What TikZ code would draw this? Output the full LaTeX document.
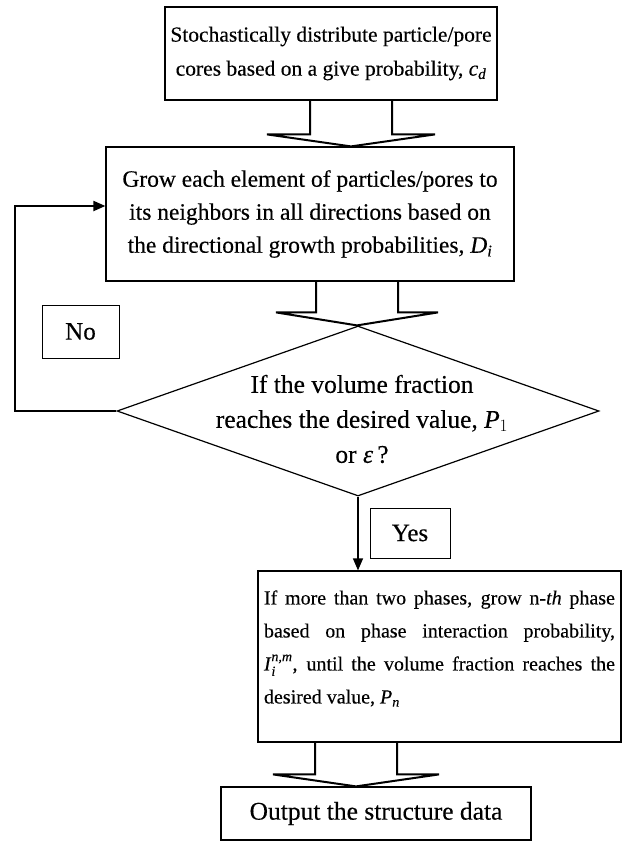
\documentclass[tikz,border=0pt]{standalone}
\usepackage{amsmath}
\usepackage{fontspec}
\setmainfont{Liberation Serif}[FakeBold=0.3]
\usetikzlibrary{shapes.geometric,arrows.meta,calc}
\newcommand\blockarrow[5]{% top node, bottom node, cx, half wing, head height
  \draw[wide] let \p1=(#1.south), \p2=(#2.north) in
   (#3-41,\y1) -- (#3-41,\y2+#5) -- (#3-#4,\y2+#5) -- (#3,\y2) -- (#3+#4,\y2+#5) -- (#3+41,\y2+#5) -- (#3+41,\y1);}
\begin{document}
\begin{tikzpicture}[x=1pt,y=-1pt,
  box/.style={draw,line width=1.2pt,inner sep=0pt,align=center},
  tag/.style={draw,line width=1pt,inner sep=0pt,font=\fontsize{25}{28}\selectfont},
  wide/.style={draw,line width=2pt,line join=miter},
  flow/.style={draw,line width=1.3pt,-{Triangle[length=12pt,width=10pt]}}]
\useasboundingbox (0,0) rectangle (623,841);
\node[box,minimum width=332pt,minimum height=93pt,font=\fontsize{21.5}{34}\selectfont] (b1) at (331,53.5)
  {Stochastically distribute particle/pore\\cores based on a give probability, \textit{c}$_{\textit{d}}$};
\node[box,minimum width=408pt,minimum height=134pt,font=\fontsize{23.5}{33}\selectfont] (b2) at (310,214)
  {Grow each element of particles/pores to\\its neighbors in all directions based on\\the directional growth probabilities, \textit{D}$_{\textit{i}}$};
\node[draw,diamond,line width=1.2pt,minimum width=482pt,minimum height=170pt,inner sep=0pt,aspect=2.835] (d) at (358,411) {};
\node[align=center,font=\fontsize{25.5}{35}\selectfont] (dt) at (362,419)
  {If the volume fraction\\reaches the desired value, \textit{P}$_1$\\or \textit{ε}\,?};
\node[box,minimum width=363pt,minimum height=171pt] (b3) at (439.5,656.5) {};
\node[inner sep=0pt,text width=351pt,align=justify,font=\fontsize{20}{33}\selectfont] (b3t) at ([yshift=8pt]b3.center)
  {If more than two phases, grow n-\textit{th} phase\linebreak
   based on phase interaction probability,\linebreak
   \textit{I}$_{\textit{i}}^{\textit{n,m}}$, until the volume fraction reaches the\linebreak
   desired value, \textit{P}$_{\textit{n}}$};
\node[box,minimum width=310pt,minimum height=53pt,font=\fontsize{25.5}{30}\selectfont] (b4) at (376,813.5)
  {Output the structure data};
\node[tag,minimum width=77pt,minimum height=53pt] (no) at (80.5,331.5) {No};
\node[tag,minimum width=80pt,minimum height=50pt] (yes) at (410,533) {Yes};
\blockarrow{b1}{b2}{351}{84}{12}
\blockarrow{b2}{d}{357}{81}{13}
\blockarrow{b3}{b4}{356}{83}{12}
\coordinate (lp) at (15,206);
\draw[flow,line width=2pt] (d.west) -| (lp) -- (b2.west |- lp);
\draw[flow] (d.south) -- (b3.north -| d.south);
\end{tikzpicture}
\end{document}
